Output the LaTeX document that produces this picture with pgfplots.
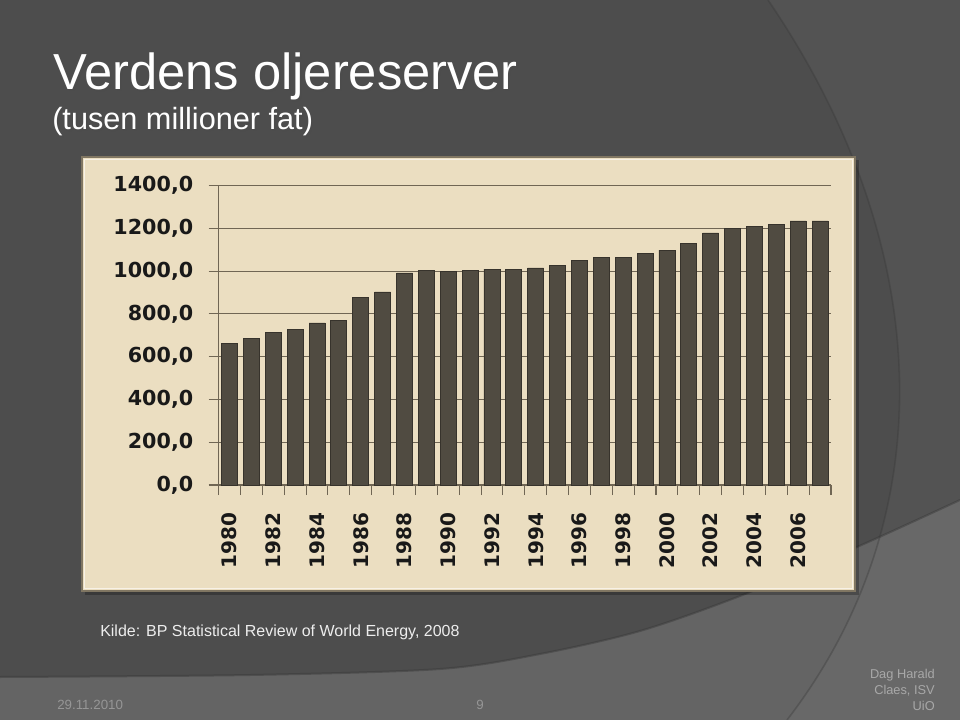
\documentclass[border=0pt]{standalone}
\usepackage{pgfplots}
\pgfplotsset{compat=1.18}
\usepackage{fontspec}
\setmainfont{Liberation Sans}
\newfontfamily\dvfont{DejaVu Sans}
\definecolor{bgdark}{RGB}{77,77,77}
\definecolor{bgright}{RGB}{83,83,83}
\definecolor{bglight}{RGB}{100,100,100}
\definecolor{bglightr}{RGB}{104,104,104}
\definecolor{edgec}{RGB}{55,55,55}
\definecolor{panel}{RGB}{235,222,193}
\definecolor{panelborder}{RGB}{128,118,98}
\definecolor{gridc}{RGB}{112,102,84}
\definecolor{barc}{RGB}{80,75,65}
\definecolor{barline}{RGB}{55,51,44}
\definecolor{foot}{RGB}{150,150,150}
\definecolor{footr}{RGB}{168,168,168}
\begin{document}
\begin{tikzpicture}
\begin{scope}[x=0.75pt,y=-0.75pt]
\clip (0,0) rectangle (960,720);
\fill[bgdark] (0,0) rectangle (960,720);
% right region
\fill[bgright] (768,0) .. controls (935,245) and (945,515) .. (787,720) -- (960,720) -- (960,0) -- cycle;
% bottom lighter region
\begin{scope}
\fill[bglight] plot[smooth] coordinates {(0,677) (250,675) (440,669) (540,654) (640,631) (740,596) (857,547) (960,500)} -- (960,720) -- (0,720) -- cycle;
\clip (768,0) .. controls (935,245) and (945,515) .. (787,720) -- (960,720) -- (960,0) -- cycle;
\fill[bglightr] plot[smooth] coordinates {(0,677) (250,675) (440,669) (540,654) (640,631) (740,596) (857,547) (960,500)} -- (960,720) -- (0,720) -- cycle;
\end{scope}
\draw[edgec, opacity=0.45, line width=1.5pt] plot[smooth] coordinates {(0,677) (250,675) (440,669) (540,654) (640,631) (740,596) (857,547) (960,500)};
\draw[edgec, opacity=0.35, line width=1.2pt] (768,0) .. controls (935,245) and (945,515) .. (787,720);
% panel
\fill[black, opacity=0.25] (85,160) rectangle (859,595);
\fill[panel] (82,157) rectangle (855,591);
\draw[panelborder, line width=1.5pt] (82,157) rectangle (855,591);
\draw[white, opacity=0.6, line width=0.6pt] (84.5,159.5) rectangle (852.5,588.5);
% titles
\node[anchor=base west, inner sep=0pt, text=black!70, font=\fontsize{38}{40}\selectfont] at (55,91.5) {Verdens oljereserver};
\node[anchor=base west, inner sep=0pt, text=white, font=\fontsize{38}{40}\selectfont] at (53,90) {Verdens oljereserver};
\node[anchor=base west, inner sep=0pt, text=black!70, font=\fontsize{23}{25}\selectfont] at (53.5,131.5) {(tusen millioner fat)};
\node[anchor=base west, inner sep=0pt, text=white, font=\fontsize{23}{25}\selectfont] at (52,130) {(tusen millioner fat)};
\node[anchor=base west, inner sep=0pt, text=white!93!black, font=\fontsize{12}{14}\selectfont] at (100,636) {Kilde: BP Statistical Review of World Energy, 2008};
% footer
\node[anchor=base west, inner sep=0pt, text=foot, font=\fontsize{10}{12}\selectfont] at (57,709) {29.11.2010};
\node[anchor=base, inner sep=0pt, text=foot, font=\fontsize{10}{12}\selectfont] at (480,709) {9};
\node[anchor=base east, inner sep=0pt, text=footr, font=\fontsize{9.6}{12}\selectfont] at (935,678) {Dag Harald};
\node[anchor=base east, inner sep=0pt, text=footr, font=\fontsize{9.6}{12}\selectfont] at (935,694) {Claes, ISV};
\node[anchor=base east, inner sep=0pt, text=footr, font=\fontsize{9.6}{12}\selectfont] at (935,710) {UiO};
\end{scope}
\begin{axis}[
  at={(163.95pt,-363.75pt)}, anchor=south west,
  scale only axis, width=459.3pt, height=224.5pt,
  xmin=-0.5, xmax=27.5, ymin=0, ymax=1400,
  axis lines*=left,
  axis line style={gridc, line width=0.8pt},
  ybar, bar width=12pt, bar shift=0pt,
  ytick={0,200,...,1400},
  ymajorgrids, grid style={gridc, line width=0.8pt},
  xtick={0,2,...,26},
  xticklabels={1980,1982,1984,1986,1988,1990,1992,1994,1996,1998,2000,2002,2004,2006},
  minor xtick={-0.5,0.5,...,27.5},
  major x tick style={draw=none},
  tick align=outside,
  major tick length=7.5pt, minor tick length=7.5pt,
  tick style={gridc, line width=0.8pt},
  /pgf/number format/assume math mode=true,
  xticklabel style={rotate=90, anchor=east, font=\dvfont\bfseries\fontsize{15}{17}\selectfont, text=black!90, xshift=-9.75pt},
  yticklabel style={font=\dvfont\bfseries\fontsize{15.5}{17}\selectfont, text=black!90, xshift=-8pt,
    /pgf/number format/.cd, fixed, fixed zerofill, precision=1, use comma, 1000 sep={}},
  clip=false,
]
\addplot[fill=barc, draw=barline, line width=0.6pt] coordinates {
(0,661) (1,684) (2,712) (3,726) (4,758) (5,770) (6,876) (7,903)
(8,992) (9,1003) (10,1000) (11,1003) (12,1010) (13,1009) (14,1015)
(15,1027) (16,1049) (17,1066) (18,1066) (19,1082) (20,1099) (21,1129)
(22,1179) (23,1199) (24,1208) (25,1218) (26,1235) (27,1235)};
\end{axis}
\end{tikzpicture}
\end{document}
